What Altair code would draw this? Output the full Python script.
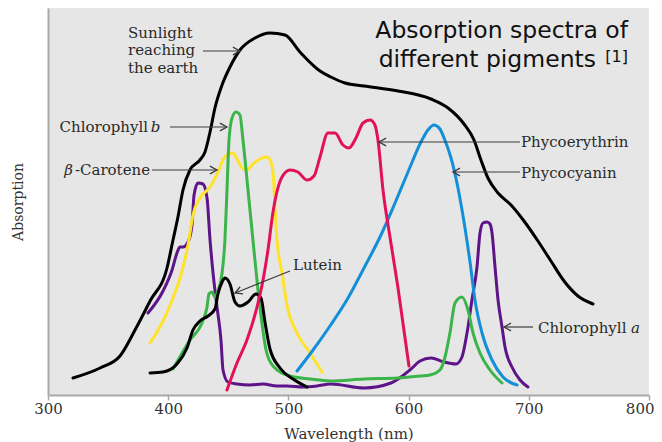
import altair as alt
import pandas as pd

# ---- spectra (wavelength nm, relative absorption) ----
sun_nm = [320.8, 343.3, 359.9, 372.4, 384.9, 399.0, 404.0, 408.1, 412.3, 418.1, 426.4, 430.6, 434.8, 438.9,
          444.8, 451.4, 459.7, 472.2, 484.7, 497.2, 509.6, 526.3, 535.4, 547.1, 562.9, 591.2, 618.6, 632.8,
          646.1, 654.4, 660.2, 666.0, 674.4, 685.2, 696.0, 707.6, 718.4, 729.3, 740.9, 753.4]
sun_abs = [17, 27, 39, 65, 94, 127, 155, 178, 205, 225, 235, 243, 263, 287,
           310, 328, 345, 357, 362, 360, 343, 324, 318, 312, 309, 304, 296, 287,
           271, 255, 235, 217, 202, 190, 174, 154, 134, 114, 99, 91]

chlb_nm = [404.0, 418.1, 428.1, 432.3, 433.9, 436.4, 438.9, 441.4, 444.8, 447.2, 448.9, 450.6, 453.1, 456.4,
           459.7, 462.2, 466.4, 470.5, 474.7, 478.0, 481.4, 487.2, 501.3, 518.0, 534.6, 562.9, 591.2, 609.5,
           617.8, 626.1, 630.3, 634.4, 638.6, 644.4, 649.4, 653.6, 659.4, 667.7, 677.7]
chlb_abs = [26, 55, 72, 88, 101, 103, 98, 104, 122, 155, 205, 255, 277, 283,
            280, 255, 205, 155, 105, 72, 45, 29, 19, 16, 14, 16, 17, 19,
            20, 25, 38, 62, 92, 98, 85, 62, 42, 25, 12]

car_nm = [384.9, 395.7, 404.0, 411.5, 416.5, 420.6, 426.4, 434.8, 441.4, 446.4, 450.6, 453.9, 457.2, 461.4,
          465.5, 470.5, 476.4, 481.4, 484.7, 487.2, 488.8, 490.5, 494.7, 498.8, 507.1, 518.0, 527.9]
car_abs = [52, 74, 97, 124, 150, 180, 197, 208, 223, 237, 241, 242, 236, 227,
           225, 231, 236, 238, 235, 223, 188, 155, 122, 90, 62, 42, 23]

chla_nm = [383.2, 395.7, 403.2, 407.3, 409.8, 412.3, 416.5, 419.8, 421.5, 424.8, 428.9, 432.3, 434.8, 437.3,
           440.6, 443.9, 445.6, 449.7, 457.2, 468.0, 478.9, 490.5, 498.8, 512.1, 523.8, 535.4, 562.9, 585.3,
           602.0, 609.5, 618.6, 629.4, 639.4, 644.4, 648.6, 652.7, 656.9, 659.4, 661.9, 665.2, 667.7, 669.4,
           671.9, 674.4, 677.7, 680.2, 686.0, 692.7, 699.3]
chla_abs = [82, 104, 125, 142, 148, 148, 153, 170, 200, 212, 211, 197, 155, 122,
            88, 55, 25, 13, 11, 10, 11, 9, 9, 8, 9, 11, 7, 12,
            26, 34, 37, 33, 31, 38, 62, 95, 128, 162, 172, 173, 171, 162,
            128, 95, 68, 48, 28, 15, 8]

red_nm = [448.9, 457.2, 465.5, 473.9, 478.9, 483.0, 487.2, 494.7, 501.3, 507.9, 515.5, 521.3, 526.3, 532.9,
          538.8, 545.4, 550.4, 556.2, 562.1, 567.9, 572.0, 574.5, 578.7, 584.5, 591.2, 600.3]
red_abs = [5, 32, 55, 88, 115, 145, 183, 218, 225, 223, 215, 219, 238, 262,
           262, 250, 247, 257, 272, 275, 270, 255, 205, 158, 107, 29]

blue_nm = [507.2, 520.5, 534.6, 549.6, 562.9, 577.0, 588.7, 599.5, 610.3, 616.1, 621.1, 626.1, 629.5, 635.3,
           641.1, 646.9, 651.1, 655.2, 661.1, 669.4, 678.5, 690.2]
blue_abs = [24, 45, 69, 97, 127, 160, 192, 223, 253, 265, 270, 266, 257, 237,
            207, 167, 133, 95, 62, 35, 18, 10]

lut_nm = [384.9, 395.7, 407.3, 415.6, 420.6, 426.4, 433.1, 438.9, 441.4, 444.8, 447.2, 451.4, 455.6, 459.7,
          466.4, 473.0, 477.2, 480.5, 484.7, 493.0, 503.8, 515.5]
lut_abs = [22, 23, 31, 47, 65, 74, 79, 86, 101, 113, 117, 111, 93, 89,
           93, 101, 97, 73, 46, 27, 16, 8]

series_names = ["Sunlight", "Chlorophyll a", "beta-Carotene", "Chlorophyll b", "Phycocyanin", "Lutein", "Phycoerythrin"]
series_colors = ["#000000", "#5e1489", "#ffe22a", "#3bb54a", "#138fd8", "#000000", "#e2125a"]
series_data = [(sun_nm, sun_abs), (chla_nm, chla_abs), (car_nm, car_abs), (chlb_nm, chlb_abs),
               (blue_nm, blue_abs), (lut_nm, lut_abs), (red_nm, red_abs)]

# ---- annotations ----
lab_left_text = ["Sunlight", "reaching", "the earth", "Lutein", "Phycoerythrin", "Phycocyanin", "Chlorophyll"]
lab_left_x = [366.6, 366.6, 366.6, 503.8, 693.5, 693.5, 707.6]
lab_left_y = [357, 340, 322, 125, 248, 217, 62]

lab_right_text = ["Chlorophyll", "-Carotene"]
lab_right_x = [383.2, 384.9]
lab_right_y = [263, 220]

ital_left_text = ["b", "a"]
ital_left_x = [385.5, 785.0]
ital_left_y = [263, 62]

ital_right_text = ["β"]
ital_right_x = [320.7]
ital_right_y = [220]

arrow_x1 = [428.9, 401.5, 386.5, 501.3, 692.7, 692.7, 703.5]
arrow_y1 = [344, 268, 225, 124, 253, 223, 68]
arrow_x2 = [459.7, 448.9, 440.6, 455.6, 575.4, 636.9, 679.3]
arrow_y2 = [344, 268, 225, 102, 253, 223, 68]
arrow_angle = [0, 0, 0, 158, 180, 180, 180]

title_text = ["Absorption spectra of", "different pigments"]
title_x = [782.5, 755.9]
title_y = [357, 328]
ref_text = ["[1]"]
ref_x = [782.5]
ref_y = [333]

x_ticks = [300, 400, 500, 600, 700, 800]

# ---- build tables ----
rows = []
for name, (xs, ys) in zip(series_names, series_data):
    for i, (xv, yv) in enumerate(zip(xs, ys)):
        rows.append({"series": name, "nm": xv, "abs": yv, "order": i})
df = pd.DataFrame(rows)

xscale = alt.Scale(domain=[300, 800], nice=False, zero=False)
yscale = alt.Scale(domain=[0, 387], nice=False, zero=True)
SERIF = "DejaVu Serif"
AX = "#a8a8a8"

base_x = alt.X("nm:Q", scale=xscale,
               axis=alt.Axis(values=x_ticks, title="Wavelength (nm)", grid=False,
                             domainColor=AX, domainWidth=2, tickColor=AX, tickWidth=1.5, tickSize=5,
                             labelFont=SERIF, labelFontSize=15, labelColor="#333333", labelPadding=1,
                             labelFlush=False,
                             labelAlign={"condition": {"test": "datum.value == 800", "value": "right"},
                                         "value": "center"},
                             labelOffset={"condition": {"test": "datum.value == 800", "value": 5},
                                          "value": 0},
                             titleFont=SERIF, titleFontSize=15, titleFontWeight="normal",
                             titleColor="#333333", titlePadding=10))
base_y = alt.Y("abs:Q", scale=yscale,
               axis=alt.Axis(title="Absorption", labels=False, ticks=False, grid=False,
                             domainColor=AX, domainWidth=2,
                             titleFont=SERIF, titleFontSize=14, titleFontWeight="normal",
                             titleColor="#333333", titleAngle=270, titleX=-30, titleY=193.5,
                             titleBaseline="middle", titleAlign="center"))

lines = alt.Chart(df).mark_line(strokeWidth=3, interpolate="monotone", strokeCap="round",
                                strokeJoin="round").encode(
    x=base_x, y=base_y,
    color=alt.Color("series:N", scale=alt.Scale(domain=series_names, range=series_colors), legend=None),
    detail="series:N",
    order="order:Q",
)

arr_df = pd.DataFrame({"x1": arrow_x1, "y1": arrow_y1, "x2": arrow_x2, "y2": arrow_y2, "ang": arrow_angle})
shafts = alt.Chart(arr_df).mark_rule(color="#3a3a3a", strokeWidth=1.2).encode(
    x=alt.X("x1:Q", scale=xscale), x2="x2:Q",
    y=alt.Y("y1:Q", scale=yscale), y2="y2:Q")
heads = alt.Chart(arr_df).mark_point(shape="M-1,-0.55L0,0L-1,0.55", filled=False, size=200,
                                     color="#3a3a3a", strokeWidth=1.3, opacity=1).encode(
    x=alt.X("x2:Q", scale=xscale), y=alt.Y("y2:Q", scale=yscale),
    angle=alt.Angle("ang:Q", scale=None))


def text_layer(texts, xs, ys, align, style="normal", font=SERIF, size=15, color="#2a2a2a"):
    d = pd.DataFrame({"t": texts, "x": xs, "y": ys})
    return alt.Chart(d).mark_text(align=align, baseline="alphabetic", font=font, fontSize=size,
                                  fontStyle=style, color=color).encode(
        x=alt.X("x:Q", scale=xscale), y=alt.Y("y:Q", scale=yscale), text="t:N")


t1 = text_layer(lab_left_text, lab_left_x, lab_left_y, "left")
t2 = text_layer(lab_right_text, lab_right_x, lab_right_y, "right")
t3 = text_layer(ital_left_text, ital_left_x, ital_left_y, "left", style="italic")
t4 = text_layer(ital_right_text, ital_right_x, ital_right_y, "right", style="italic")
t5 = text_layer(title_text, title_x, title_y, "right", font="DejaVu Sans", size=23.5, color="#111111")
t6 = text_layer(ref_text, ref_x, ref_y, "right", font="DejaVu Sans", size=16, color="#111111")

chart = alt.layer(lines, shafts, heads, t1, t2, t3, t4, t5, t6).properties(
    width=601, height=387,
    autosize=alt.AutoSizeParams(type="none"),
    padding={"left": 40, "top": 0, "right": 5, "bottom": 50},
    background="#ffffff",
).configure_view(fill="#e6e6e6", strokeWidth=0)

chart.save("out.html", embed_options={"renderer": "svg", "actions": False})
